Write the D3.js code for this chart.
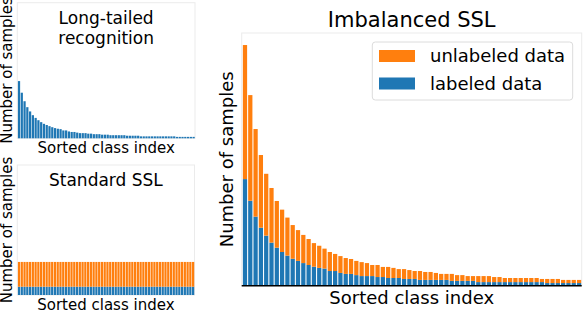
<!DOCTYPE html>
<meta charset="utf-8">
<style>
body { margin: 0; background: #fff; }
svg { font-family: 'DejaVu Sans', sans-serif; display: block; }
.frame { fill: none; stroke: #ebebeb; stroke-width: 1; }
</style>
<body>
<svg width="584" height="310"></svg>
<script src="https://cdn.jsdelivr.net/npm/d3@7"></script>
<script>

// class counts (64 classes, sorted)
var labeled = [443,353,287,241,208,179,158,140,125,112,103,94,86,79,74,71,
  61,61,53,49,49,44,40,40,40,36,36,32,32,32,28,28,28,24,24,24,24,24,24,
  20,20,20,20,20,15,15,15,15,15,15,15,15,15,15,15,15,15,11,11,11,11,11,11,11];
var unlabeled = [557,439,364,302,257,227,194,176,158,140,128,117,108,98,92,83,
  79,71,70,66,62,59,58,54,46,50,42,46,42,37,41,37,33,37,33,33,29,25,25,
  29,24,24,20,20,25,25,25,21,21,17,17,17,17,17,17,17,13,17,17,17,13,13,13,13];
var balancedLabeled = [67,67,67,67,67,67,67,67,67,67,67,67,67,67,67,67,
  67,67,67,67,67,67,67,67,67,67,67,67,67,67,67,67,
  67,67,67,67,67,67,67,67,67,67,67,67,67,67,67,67,
  67,67,67,67,67,67,67,67,67,67,67,67,67,67,67,67];
var balancedUnlabeled = [200,200,200,200,200,200,200,200,200,200,200,200,200,200,200,200,
  200,200,200,200,200,200,200,200,200,200,200,200,200,200,200,200,
  200,200,200,200,200,200,200,200,200,200,200,200,200,200,200,200,
  200,200,200,200,200,200,200,200,200,200,200,200,200,200,200,200];
var legendLabels = ["unlabeled data", "labeled data"];

var blue = "#1f77b4", orange = "#ff7f0e";
var svg = d3.select("svg");

function panel(box, lab, unl, opts) {
  var g = svg.append("g");
  var x = d3.scaleLinear().domain([-0.62, 63.5]).range([box.x0, box.x1]);
  var y = d3.scaleLinear().domain([0, 1050]).range([box.y1, box.y0]);
  var step = x(1) - x(0), bw = step * 0.8;

  g.append("rect").attr("class", "frame")
    .attr("x", box.x0).attr("y", box.y0)
    .attr("width", box.x1 - box.x0).attr("height", box.y1 - box.y0);

  var rows = lab.map(function(d, i) { return {i: i, labeled: d, unlabeled: unl ? unl[i] : 0}; });
  var series = d3.stack().keys(unl ? ["labeled", "unlabeled"] : ["labeled"])(rows);
  g.selectAll(".s").data(series).enter().append("g")
      .attr("fill", function(s) { return s.key == "labeled" ? blue : orange; })
    .selectAll("rect").data(function(s) { return s; }).enter().append("rect")
      .attr("x", function(d) { return x(d.data.i) - bw / 2; })
      .attr("width", bw)
      .attr("y", function(d) { return y(d[1]); })
      .attr("height", function(d) { return y(d[0]) - y(d[1]); });

  if (opts.spine) {
    g.append("line").attr("x1", box.x0).attr("x2", box.x1)
      .attr("y1", box.y1).attr("y2", box.y1)
      .attr("stroke", "#000").attr("stroke-width", 1.5);
  }

  var cx = (box.x0 + box.x1) / 2, cy = (box.y0 + box.y1) / 2;
  g.append("text").attr("x", cx).attr("y", opts.xlabY)
    .attr("text-anchor", "middle").style("font-size", opts.labSize + "px")
    .text("Sorted class index");
  g.append("text").attr("transform", "translate(" + opts.ylabX + "," + cy + ") rotate(-90)")
    .attr("text-anchor", "middle").style("font-size", opts.labSize + "px")
    .text("Number of samples");
  opts.title.forEach(function(t, k) {
    g.append("text").attr("x", cx).attr("y", opts.titleY + k * 19.5)
      .attr("text-anchor", "middle").style("font-size", opts.titleSize + "px")
      .text(t);
  });
  return g;
}

panel({x0: 17.3, x1: 195, y0: 2.7, y1: 138.3}, labeled, null,
  {title: ["Long-tailed", "recognition"], titleY: 24, titleSize: 17,
   xlabY: 152.7, ylabX: 11.5, labSize: 15, spine: false});

panel({x0: 17.3, x1: 194.5, y0: 165, y1: 295}, balancedLabeled, balancedUnlabeled,
  {title: ["Standard SSL"], titleY: 185.7, titleSize: 17,
   xlabY: 309.5, ylabX: 11.5, labSize: 15, spine: false});

panel({x0: 241.7, x1: 581.7, y0: 33, y1: 285.7}, labeled, unlabeled,
  {title: ["Imbalanced SSL"], titleY: 26.7, titleSize: 21,
   xlabY: 304, ylabX: 232.5, labSize: 18, spine: true});

// legend
var lg = svg.append("g");
lg.append("rect").attr("x", 372.3).attr("y", 42).attr("width", 200.4).attr("height", 58)
  .attr("rx", 3).attr("fill", "#fff").attr("fill-opacity", 0.8)
  .attr("stroke", "#dcdcdc").attr("stroke-width", 1);
lg.selectAll(".item").data(legendLabels).enter().append("g")
  .each(function(d, i) {
    var it = d3.select(this);
    it.append("rect").attr("x", 379).attr("y", 50 + i * 27.5)
      .attr("width", 36).attr("height", 12)
      .attr("fill", i == 0 ? orange : blue);
    it.append("text").attr("x", 430).attr("y", 62.3 + i * 27.7)
      .style("font-size", "18px").text(d);
  });

</script>
</body>
